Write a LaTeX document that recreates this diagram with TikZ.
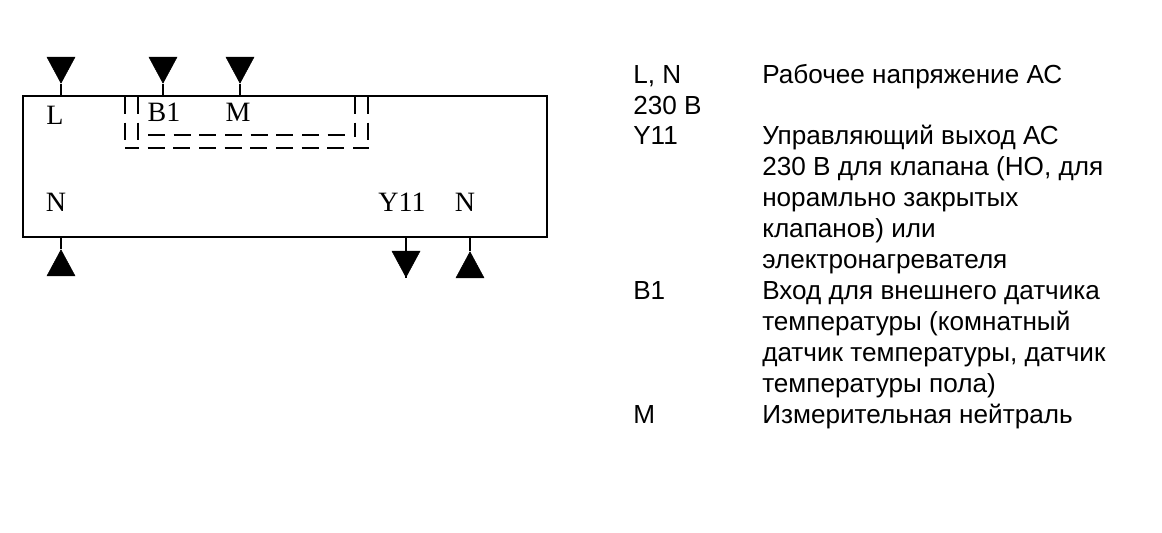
\documentclass[tikz,border=0pt]{standalone}
\usepackage{fontspec}
\setmainfont{Liberation Sans}
\newfontfamily\pinfont{Liberation Serif}
\usetikzlibrary{shapes.geometric}
\tikzset{
    pindown/.style={draw, fill=black, isosceles triangle, isosceles triangle stretches, shape border rotate=-90, minimum width=21pt, minimum height=19.5pt, inner sep=0pt},
    pinup/.style={draw, fill=black, isosceles triangle, isosceles triangle stretches, shape border rotate=90, minimum width=21pt, minimum height=19.5pt, inner sep=0pt},
    pinlabel/.style={font=\pinfont\fontsize{21}{23}\selectfont, inner sep=0pt, anchor=base},
    legend/.style={font=\fontsize{19.6}{23.25}\selectfont, align=left, inner sep=0pt, anchor=base west},
    wire/.style={line width=1.5pt},
    jumper/.style={line width=1.5pt, dash pattern=on 12.75pt off 6.5pt}
}
\begin{document}
\begin{tikzpicture}[x=0.75pt,y=-0.75pt]
            \useasboundingbox (0,0) rectangle (1162,532);
            % Terminal block
            \node[draw, wire, minimum width=393pt, minimum height=105.4pt, inner sep=0pt] (frame) at (285,166.7) {};
            
            % Terminals on top
            \node[pindown] (pinL) at (61,65.5) {};
            \node[pindown] (pinB) at (163,65.5) {};
            \node[pindown] (pinM) at (240,65.5) {};
            \draw[wire] (pinL.apex) -- (pinL.apex |- frame.north);
            \draw[wire] (pinB.apex) -- (pinB.apex |- frame.north);
            \draw[wire] (pinM.apex) -- (pinM.apex |- frame.north);
            
            % Terminals below
            \node[pinup] (pinNa) at (61,267.5) {};
            \node[pindown] (pinY) at (406,259.5) {};
            \node[pinup] (pinNb) at (470,269.5) {};
            \draw[wire] (pinNa.apex) -- (pinNa.apex |- frame.south);
            \draw[wire] (pinY.apex) -- (pinY.apex |- frame.south);
            \draw[wire] (pinNb.apex) -- (pinNb.apex |- frame.south);
            
            % Pin names
            \node[pinlabel] (nameL) at (55,124) {L};
            \node[pinlabel] (nameB) at (164,121) {B1};
            \node[pinlabel] (nameM) at (238,121) {M};
            \node[pinlabel] (nameNa) at (56,211) {N};
            \node[pinlabel] (nameY) at (402,211) {Y11};
            \node[pinlabel] (nameNb) at (465,211) {N};
            
            % Jumpers
            \coordinate (jumpA) at (125,97);
            \coordinate (jumpB) at (138,97);
            \coordinate (jumpC) at (355,97);
            \coordinate (jumpD) at (368,97);
            \draw[jumper] (jumpA) -- (jumpA |- 0,140);
            \draw[jumper] (jumpB) -- (jumpB |- 0,140);
            \draw[jumper] (jumpC) -- (jumpC |- 0,137);
            \draw[jumper] (jumpD) -- (jumpD |- 0,140);
            \draw[jumper] (148,135) -- (345,135);
            \draw[jumper, dash phase=2.25pt] (125,148) -- (369,148);
            
            % Legend
            \node[legend] (keyLN) at (633,114) {L, N\\230 В};
            \node[legend] (textLN) at (762,83) {Рабочее напряжение АС};
            \node[legend] (keyY) at (633,144) {Y11};
            \node[legend] (textY) at (762,268) {Управляющий выход АС\\230 В для клапана (НО, для\\норамльно закрытых\\клапанов) или\\электронагревателя};
            \node[legend] (keyB) at (633,299) {B1};
            \node[legend] (textB) at (762,392) {Вход для внешнего датчика\\температуры (комнатный\\датчик температуры, датчик\\температуры пола)};
            \node[legend] (keyM) at (633,423) {M};
            \node[legend] (textM) at (762,423) {Измерительная нейтраль};
        \end{tikzpicture}
\end{document}
